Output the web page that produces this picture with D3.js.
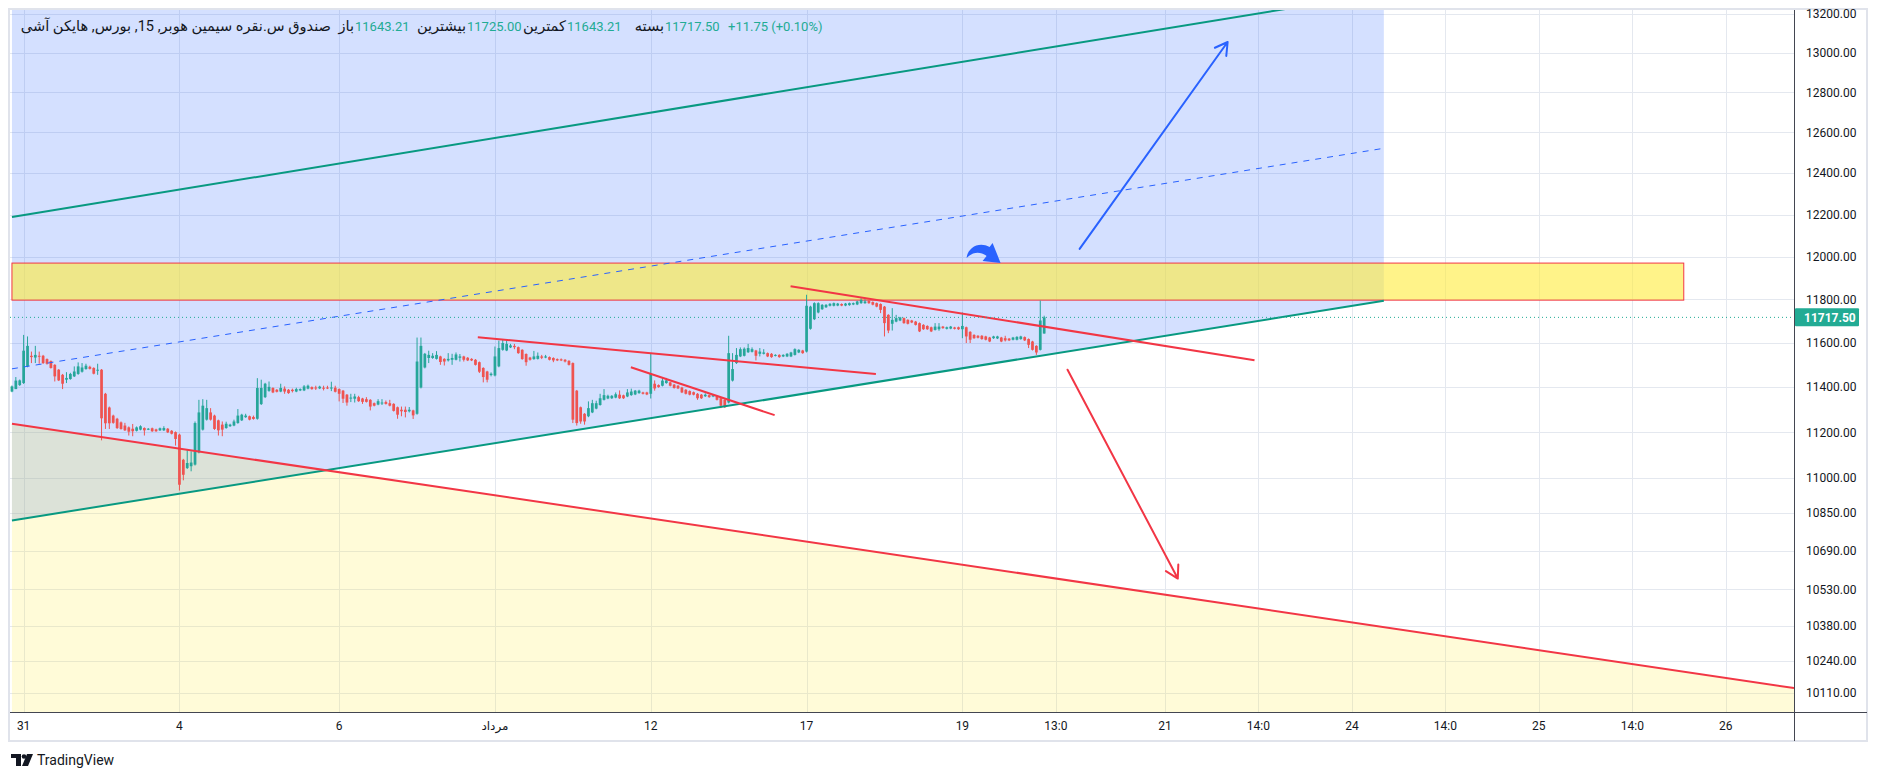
<!DOCTYPE html>
<html>
<head>
<meta charset="utf-8">
<script src="https://cdn.jsdelivr.net/npm/d3@7"></script>
<style>
  body { margin: 0; background: #fff; }
  svg text { font-family: Roboto, "DejaVu Sans", sans-serif; }
</style>
</head>
<body>
<div id="chart"></div>
<script>
// Heikin Ashi 15m bars (bar index = position on the time axis)
var opens = [11381,11392,11410,11419,11494,11542,11534,11542,11542,11527,11518,11501,11479,11456,11434,11437,11449,11460,11470,11482,
  11492,11487,11476,11479,11371,11310,11274,11260,11244,11230,11222,11216,11207,11212,11219,11213,11218,11213,11209,11209,
  11216,11207,11201,11190,11080,11044,11052,11059,11112,11212,11256,11288,11274,11253,11234,11219,11227,11230,11241,11253,
  11267,11271,11268,11260,11325,11356,11384,11397,11389,11381,11394,11389,11389,11381,11386,11386,11394,11401,11399,11395,
  11398,11399,11395,11398,11392,11385,11367,11350,11349,11356,11350,11347,11344,11329,11323,11328,11334,11329,11326,11311,
  11300,11300,11293,11297,11282,11399,11489,11532,11532,11528,11539,11528,11521,11524,11524,11533,11539,11533,11528,11524,
  11513,11487,11471,11455,11453,11494,11569,11566,11580,11587,11581,11569,11550,11534,11527,11528,11539,11534,11536,11532,
  11527,11526,11524,11519,11509,11385,11311,11282,11271,11288,11305,11321,11344,11350,11351,11354,11367,11364,11359,11365,
  11368,11374,11377,11377,11371,11416,11410,11407,11419,11422,11412,11407,11399,11389,11383,11378,11371,11367,11360,11365,
  11359,11359,11351,11344,11332,11430,11509,11539,11542,11558,11560,11566,11551,11551,11554,11551,11542,11546,11539,11539,
  11539,11546,11557,11566,11561,11665,11709,11740,11755,11764,11771,11771,11772,11779,11772,11774,11777,11777,11783,11783,
  11794,11788,11783,11779,11767,11729,11688,11698,11703,11714,11706,11703,11698,11691,11683,11678,11672,11660,11663,11675,
  11665,11666,11671,11672,11663,11672,11651,11637,11633,11633,11630,11625,11622,11621,11625,11622,11620,11615,11615,11618,
  11627,11618,11607,11587,11569,11643.21];
var highs = [11408,11446,11435,11637,11630,11561,11587,11561,11546,11530,11521,11504,11482,11460,11468,11465,11494,11512,11509,11506,
  11497,11490,11506,11482,11375,11314,11278,11264,11248,11242,11226,11237,11226,11231,11222,11219,11221,11216,11221,11227,
  11219,11210,11204,11194,11084,11124,11117,11248,11344,11347,11344,11307,11278,11256,11248,11247,11238,11256,11303,11282,
  11282,11274,11274,11441,11434,11420,11426,11400,11392,11416,11404,11392,11394,11398,11395,11410,11412,11404,11407,11407,
  11407,11407,11425,11407,11395,11388,11370,11371,11371,11362,11353,11356,11347,11332,11347,11347,11341,11344,11329,11314,
  11314,11314,11312,11300,11625,11625,11555,11565,11554,11563,11542,11531,11554,11551,11557,11550,11542,11536,11531,11527,
  11516,11490,11474,11467,11584,11611,11615,11611,11596,11596,11584,11572,11553,11537,11564,11557,11546,11546,11539,11535,
  11530,11530,11527,11522,11512,11388,11314,11285,11337,11344,11340,11371,11392,11367,11365,11377,11386,11367,11392,11394,
  11388,11389,11380,11380,11554,11431,11413,11442,11442,11425,11415,11410,11402,11392,11386,11381,11374,11370,11373,11368,
  11368,11362,11354,11347,11633,11554,11577,11580,11580,11596,11580,11569,11577,11572,11557,11554,11549,11549,11549,11554,
  11560,11576,11572,11569,11822,11771,11787,11787,11779,11779,11783,11786,11784,11782,11784,11786,11786,11794,11806,11801,
  11797,11791,11786,11782,11770,11732,11760,11729,11720,11717,11709,11706,11701,11694,11686,11681,11675,11691,11691,11678,
  11675,11678,11674,11675,11740,11675,11654,11640,11636,11636,11633,11628,11633,11633,11628,11633,11623,11628,11631,11633,
  11630,11621,11610,11590,11795,11725];
var lows = [11378,11392,11406,11415,11490,11509,11509,11506,11505,11502,11484,11426,11428,11392,11419,11434,11446,11456,11466,11479,
  11480,11458,11456,11165,11215,11215,11238,11215,11212,11206,11186,11183,11204,11209,11186,11210,11202,11202,11206,11206,
  11197,11191,11142,10947,10991,11040,11030,11055,11108,11208,11252,11252,11211,11186,11183,11216,11224,11227,11238,11250,
  11264,11253,11256,11256,11321,11352,11380,11374,11377,11378,11371,11371,11377,11378,11383,11383,11391,11389,11388,11392,
  11386,11392,11383,11377,11337,11330,11318,11334,11332,11335,11326,11332,11297,11315,11320,11321,11323,11315,11292,11260,
  11271,11266,11288,11259,11278,11395,11485,11509,11528,11525,11501,11498,11516,11501,11521,11516,11516,11518,11518,11498,
  11464,11422,11422,11449,11449,11490,11565,11563,11577,11572,11551,11524,11497,11520,11524,11525,11527,11531,11521,11513,
  11518,11518,11512,11498,11241,11230,11238,11234,11267,11285,11302,11318,11341,11347,11348,11351,11348,11348,11356,11362,
  11365,11371,11368,11365,11350,11385,11398,11404,11416,11404,11394,11392,11374,11368,11364,11364,11344,11348,11357,11353,
  11356,11341,11307,11308,11328,11426,11505,11536,11539,11555,11557,11521,11539,11548,11536,11533,11539,11533,11536,11536,
  11536,11543,11554,11551,11557,11661,11705,11736,11752,11761,11768,11768,11769,11769,11769,11771,11774,11774,11780,11780,
  11780,11773,11764,11737,11630,11645,11657,11695,11700,11688,11685,11691,11680,11650,11660,11660,11650,11657,11656,11665,
  11662,11663,11662,11660,11622,11600,11600,11619,11621,11615,11612,11604,11619,11618,11604,11607,11609,11612,11612,11615,
  11609,11577,11566,11546,11566,11643.21];
var closes = [11404,11430,11431,11565,11587,11536,11546,11538,11509,11506,11487,11449,11431,11416,11442,11460,11471,11494,11489,11497,
  11483,11461,11479,11262,11240,11240,11242,11219,11215,11209,11203,11205,11222,11227,11209,11216,11205,11205,11218,11219,
  11200,11194,11171,10972,11015,11066,11068,11241,11288,11318,11307,11256,11215,11209,11212,11238,11234,11248,11274,11278,
  11274,11256,11259,11397,11397,11416,11402,11377,11380,11397,11381,11374,11383,11392,11392,11404,11407,11392,11395,11403,
  11394,11395,11399,11380,11371,11349,11332,11354,11359,11338,11335,11335,11314,11318,11338,11332,11326,11318,11295,11278,
  11293,11290,11300,11275,11516,11587,11551,11546,11542,11546,11514,11516,11528,11532,11548,11539,11524,11521,11521,11501,
  11470,11446,11434,11461,11539,11577,11600,11596,11589,11581,11554,11527,11513,11524,11539,11542,11533,11539,11524,11521,
  11521,11521,11516,11501,11256,11241,11248,11248,11307,11329,11329,11351,11365,11362,11362,11369,11351,11351,11377,11381,
  11385,11385,11371,11368,11461,11395,11401,11430,11431,11407,11397,11395,11377,11371,11367,11367,11351,11351,11367,11356,
  11365,11344,11318,11311,11554,11482,11546,11572,11574,11577,11572,11542,11561,11557,11539,11536,11546,11536,11546,11551,
  11557,11572,11569,11554,11771,11767,11783,11783,11775,11775,11780,11783,11781,11772,11781,11783,11783,11791,11798,11791,
  11783,11776,11767,11752,11691,11657,11706,11714,11717,11691,11688,11694,11683,11653,11663,11663,11653,11675,11675,11668,
  11672,11675,11665,11663,11678,11630,11615,11622,11624,11618,11615,11607,11630,11630,11607,11612,11612,11625,11628,11630,
  11612,11592,11569,11557,11703,11717.5];

var priceTicks = [13200,13000,12800,12600,12400,12200,12000,11800,11600,11400,11200,11000,10850,10690,10530,10380,10240,10110];
var timeTickIdx = [3,43,84,124,164,204,244,268,296,320,344,368,392,416,440];
var timeTickLabels = ["31","4","6","مرداد","12","17","19","13:0","21","14:0","24","14:0","25","14:0","26"];
var lastPrice = 11717.5;
var changeText = "+11.75 (+0.10%)";

// drawings as [bar index, price] anchor points
var channelUpper = [[0,12189],[352.2,13310]];
var channelMid = [[0,11483],[352.2,12522]];
var channelLower = [[0,10819],[352.2,11794]];
var fallingLine = [[0,11238],[457.5,10130]];
var zone = {from: 0, to: 429.2, top: 11970, bottom: 11797};
var trendA = [[119.6,11626],[221.8,11460]];
var trendB = [[158.9,11490],[195.8,11276]];
var trendC = [[199.9,11862],[319,11522]];
var arrowUp = [[274.1,12037],[312.1,13056]];
var arrowDown = [[271.0,11479],[299.3,10575]];
var curveMark = [249.7,12018];

var W = 1879, H = 781;
var plot = {left: 10, right: 1794, top: 10, bottom: 712};

var x = d3.scaleLinear().domain([-0.5, 457.5]).range([plot.left, plot.right]);
var y = d3.scaleLog().domain([10035, 13221]).range([plot.bottom, plot.top]);

var svg = d3.select('#chart').append('svg')
  .attr('width', W).attr('height', H);

svg.append('rect').attr('width', W).attr('height', H).attr('fill', '#fff');

// chart frame
svg.append('rect')
  .attr('x', 9).attr('y', 9).attr('width', 1858).attr('height', 732)
  .attr('fill', '#fff').attr('stroke', '#e0e3eb').attr('stroke-width', 2);

svg.append('clipPath').attr('id', 'pane')
  .append('rect')
  .attr('x', plot.left).attr('y', plot.top)
  .attr('width', plot.right - plot.left).attr('height', plot.bottom - plot.top);

var pane = svg.append('g').attr('clip-path', 'url(#pane)');

// grid
pane.selectAll('.hgrid').data(priceTicks).enter().append('line')
  .attr('x1', plot.left).attr('x2', plot.right)
  .attr('y1', function(d) { return Math.round(y(d)) + 0.5; })
  .attr('y2', function(d) { return Math.round(y(d)) + 0.5; })
  .attr('stroke', '#e4e8ef');
pane.selectAll('.vgrid').data(timeTickIdx).enter().append('line')
  .attr('y1', plot.top).attr('y2', plot.bottom)
  .attr('x1', function(d) { return Math.round(x(d)) + 0.5; })
  .attr('x2', function(d) { return Math.round(x(d)) + 0.5; })
  .attr('stroke', '#e4e8ef');

var px = function(p) { return [x(p[0]), y(p[1])]; };
var seg = d3.line().x(function(d) { return x(d[0]); }).y(function(d) { return y(d[1]); });

// channel background (blue)
var topPrice = y.domain()[1];
pane.append('path')
  .attr('d', seg([[channelLower[0][0], topPrice], [channelLower[1][0], topPrice], channelLower[1], channelLower[0]]) + 'Z')
  .attr('fill', 'rgba(41, 98, 255, 0.2)');

// falling channel background (yellow)
var botPrice = y.domain()[0];
pane.append('path')
  .attr('d', seg([fallingLine[0], fallingLine[1], [fallingLine[1][0], botPrice], [fallingLine[0][0], botPrice]]) + 'Z')
  .attr('fill', 'rgba(255, 235, 59, 0.2)');

// resistance zone
pane.append('rect')
  .attr('x', x(zone.from)).attr('y', y(zone.top))
  .attr('width', x(zone.to) - x(zone.from))
  .attr('height', y(zone.bottom) - y(zone.top))
  .attr('fill', 'rgba(255, 235, 59, 0.6)')
  .attr('stroke', '#f23645').attr('stroke-width', 1);

// candles
var bw = Math.max(1, (x(1) - x(0)) * 0.7);
var candles = pane.append('g').attr('class', 'candles');
closes.forEach(function(c, i) {
  var o = opens[i], col = c >= o ? '#26a69a' : '#ef5350';
  var cx = x(i);
  candles.append('line')
    .attr('x1', cx).attr('x2', cx)
    .attr('y1', y(highs[i])).attr('y2', y(lows[i]))
    .attr('stroke', col).attr('stroke-width', 1);
  var top = y(Math.max(o, c)), bot = y(Math.min(o, c));
  candles.append('rect')
    .attr('x', cx - bw / 2).attr('y', top)
    .attr('width', bw).attr('height', Math.max(1, bot - top))
    .attr('fill', col);
});

// channel lines
pane.append('path').attr('d', seg(channelMid))
  .attr('stroke', '#2962ff').attr('stroke-width', 1).attr('stroke-dasharray', '6,6').attr('fill', 'none');
[channelUpper, channelLower].forEach(function(l) {
  pane.append('path').attr('d', seg(l))
    .attr('stroke', '#089981').attr('stroke-width', 2).attr('fill', 'none');
});
[fallingLine, trendA, trendB, trendC].forEach(function(l) {
  pane.append('path').attr('d', seg(l))
    .attr('stroke', '#f23645').attr('stroke-width', 2).attr('fill', 'none');
});

// arrows
function drawArrow(pts, color) {
  var p0 = px(pts[0]), p1 = px(pts[1]);
  var a = Math.atan2(p1[1] - p0[1], p1[0] - p0[0]), L = 14, s = Math.PI / 6;
  var h1 = [p1[0] - L * Math.cos(a - s), p1[1] - L * Math.sin(a - s)];
  var h2 = [p1[0] - L * Math.cos(a + s), p1[1] - L * Math.sin(a + s)];
  pane.append('path')
    .attr('d', 'M' + p0 + 'L' + p1 + 'M' + h1 + 'L' + p1 + 'L' + h2)
    .attr('stroke', color).attr('stroke-width', 2).attr('fill', 'none')
    .attr('stroke-linecap', 'round').attr('stroke-linejoin', 'round');
}
drawArrow(arrowUp, '#2962ff');
drawArrow(arrowDown, '#f23645');

// curved arrow mark
pane.append('path')
  .attr('transform', 'translate(' + px(curveMark) + ')')
  .attr('d', 'M-18,5 C-17,-5 -6,-12 5,-6 L8,-10 L16,10 L-2,8 L2,3 C-5,-2 -12,-1 -18,5 Z')
  .attr('fill', '#2962ff');

// last price line
pane.append('line')
  .attr('x1', plot.left).attr('x2', plot.right)
  .attr('y1', y(lastPrice)).attr('y2', y(lastPrice))
  .attr('stroke', '#22ab94').attr('stroke-width', 1).attr('stroke-dasharray', '1,3');

// axes lines
svg.append('line').attr('x1', plot.right + 0.5).attr('x2', plot.right + 0.5)
  .attr('y1', plot.top).attr('y2', 741).attr('stroke', '#434651');
svg.append('line').attr('x1', plot.left).attr('x2', 1867)
  .attr('y1', plot.bottom + 0.5).attr('y2', plot.bottom + 0.5).attr('stroke', '#434651');

// price axis labels
svg.selectAll('.ptick').data(priceTicks).enter().append('text')
  .attr('x', plot.right + 12).attr('y', function(d) { return y(d); })
  .attr('dy', '0.35em').attr('font-size', 12).attr('fill', '#131722')
  .text(function(d) { return d3.format('.2f')(d); });

var ly = y(lastPrice);
svg.append('rect').attr('x', plot.right + 1).attr('y', ly - 9)
  .attr('width', 64).attr('height', 18).attr('rx', 1).attr('fill', '#22ab94');
svg.append('text').attr('x', plot.right + 10).attr('y', ly).attr('dy', '0.35em')
  .attr('font-size', 12).attr('font-weight', 'bold').attr('fill', '#fff')
  .text(d3.format('.2f')(lastPrice));

// time axis labels
svg.selectAll('.ttick').data(timeTickIdx).enter().append('text')
  .attr('x', function(d) { return x(d); }).attr('y', 726)
  .attr('dy', '0.35em').attr('text-anchor', 'middle')
  .attr('font-size', 12).attr('fill', '#131722')
  .text(function(d, i) { return timeTickLabels[i]; });

// legend
var legend = svg.append('g').attr('font-size', 13);
legend.append('text').attr('x', 331).attr('y', 31).attr('text-anchor', 'end')
  .attr('font-size', 14.6)
  .attr('fill', '#131722').text('صندوق س.نقره سیمین هوبر, 15, بورس, هایکن آشی');
var ohlcLabels = ['باز', 'بیشترین', 'کمترین', 'بسته'];
var ohlcValues = [opens[opens.length - 1], highs[highs.length - 1], lows[lows.length - 1], closes[closes.length - 1]];
var valueX = [355, 467, 567, 665];
ohlcLabels.forEach(function(lab, i) {
  legend.append('text').attr('x', valueX[i] - 1).attr('y', 31).attr('text-anchor', 'end')
    .attr('font-size', 14.6).attr('fill', '#131722').text(lab);
  legend.append('text').attr('x', valueX[i]).attr('y', 31)
    .attr('fill', '#22ab94').text(d3.format('.2f')(ohlcValues[i]));
});
legend.append('text').attr('x', 728).attr('y', 31).attr('fill', '#22ab94')
  .text(changeText);

// TradingView mark
var logo = svg.append('g').attr('fill', '#131722');
logo.append('path').attr('d', 'M11,754 H21 V766 H16 V758 H11 Z');
logo.append('circle').attr('cx', 24).attr('cy', 756.5).attr('r', 2.3);
logo.append('path').attr('d', 'M27,754 H33 L28,766 H22 Z');
svg.append('text').attr('x', 37).attr('y', 765).attr('font-size', 14)
  .attr('fill', '#131722').text('TradingView');
</script>
</body>
</html>
